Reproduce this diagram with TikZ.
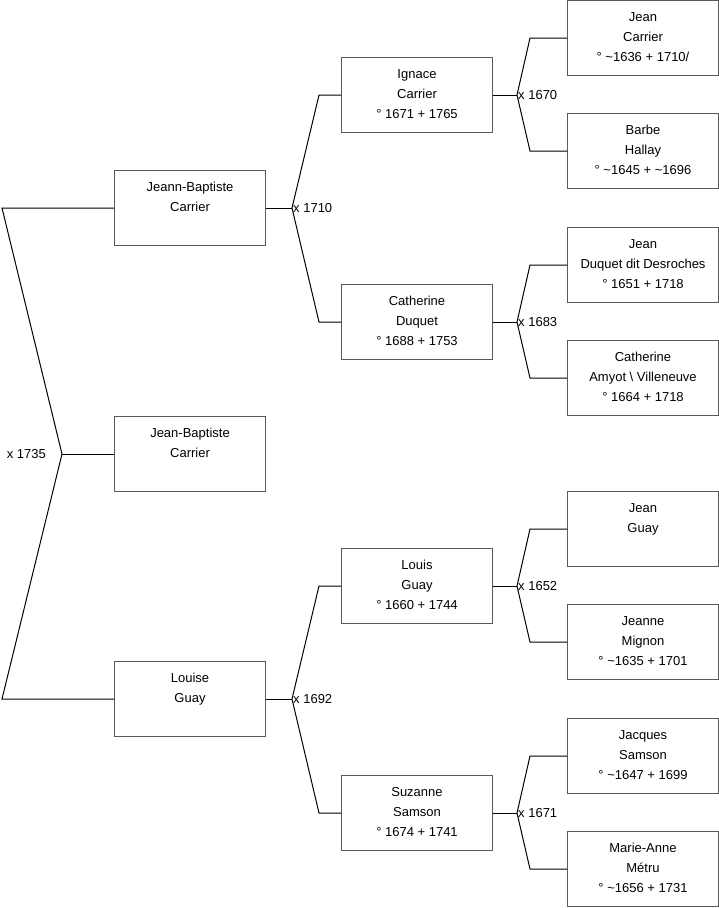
\documentclass[tikz,border=0pt]{standalone}
\usepackage{fontspec}
\setmainfont{Liberation Sans}
\usetikzlibrary{calc}
\newcommand{\pbx}[1]{\parbox[t][75pt][t]{151pt}{\centering\fontsize{13}{20}\selectfont\rule{0pt}{21pt}#1}}
\begin{document}
\begin{tikzpicture}[x=1pt,y=-1pt,
  person/.style={draw=black!65, line width=1pt, inner sep=0pt, anchor=west, text=black},
  link/.style={draw=black, line width=1pt},
  marr/.style={font=\fontsize{13}{15}\selectfont, inner sep=1pt, text=black}]
\useasboundingbox (0,0) rectangle (719,908);
% generation 1
\node[person] (p1) at (114,208) {\pbx{Jeann-Baptiste\\Carrier}};
\node[person] (p0) at (114,454) {\pbx{Jean-Baptiste\\Carrier}};
\node[person] (p2) at (114,699) {\pbx{Louise\\Guay}};
% generation 2
\node[person] (p11) at (341,95) {\pbx{Ignace\\Carrier\\° 1671 + 1765}};
\node[person] (p12) at (341,322) {\pbx{Catherine\\Duquet\\° 1688 + 1753}};
\node[person] (p21) at (341,586) {\pbx{Louis\\Guay\\° 1660 + 1744}};
\node[person] (p22) at (341,813) {\pbx{Suzanne\\Samson\\° 1674 + 1741}};
% generation 3
\node[person] (p111) at (567,38) {\pbx{Jean\\Carrier\\° \textasciitilde1636 + 1710/}};
\node[person] (p112) at (567,151) {\pbx{Barbe\\Hallay\\° \textasciitilde1645 + \textasciitilde1696}};
\node[person] (p121) at (567,265) {\pbx{Jean\\Duquet dit Desroches\\° 1651 + 1718}};
\node[person] (p122) at (567,378) {\pbx{Catherine\\Amyot \textbackslash{} Villeneuve\\° 1664 + 1718}};
\node[person] (p211) at (567,529) {\pbx{Jean\\Guay}};
\node[person] (p212) at (567,642) {\pbx{Jeanne\\Mignon\\° \textasciitilde1635 + 1701}};
\node[person] (p221) at (567,756) {\pbx{Jacques\\Samson\\° \textasciitilde1647 + 1699}};
\node[person] (p222) at (567,869) {\pbx{Marie-Anne\\Métru\\° \textasciitilde1656 + 1731}};
% root couple
\coordinate (f0) at ($(p0.west)+(-52,0)$);
\coordinate (c1) at ($(p1.west)+(-112,0)$);
\coordinate (c2) at ($(p2.west)+(-112,0)$);
\draw[link] (p1.west) -- (c1) -- (f0) -- (c2) -- (p2.west);
\draw[link] (f0) -- (p0.west);
\node[marr, anchor=east] (m0) at ($(f0)+(-15,0)$) {x 1735};
% gen1 forks
\coordinate (f1) at ($(p1.east)+(26,0)$);
\draw[link] (p1.east) -- (f1);
\draw[link] (p11.west) -- ++(-22,0) -- (f1) -- ($(p12.west)+(-22,0)$) -- (p12.west);
\node[marr, anchor=west] (m1) at (f1) {x 1710};
\coordinate (f2) at ($(p2.east)+(26,0)$);
\draw[link] (p2.east) -- (f2);
\draw[link] (p21.west) -- ++(-22,0) -- (f2) -- ($(p22.west)+(-22,0)$) -- (p22.west);
\node[marr, anchor=west] (m2) at (f2) {x 1692};
% gen2 forks
\coordinate (f11) at ($(p11.east)+(24,0)$);
\draw[link] (p11.east) -- (f11);
\draw[link] (p111.west) -- ++(-37,0) -- (f11) -- ($(p112.west)+(-37,0)$) -- (p112.west);
\node[marr, anchor=west] (m11) at (f11) {x 1670};
\coordinate (f12) at ($(p12.east)+(24,0)$);
\draw[link] (p12.east) -- (f12);
\draw[link] (p121.west) -- ++(-37,0) -- (f12) -- ($(p122.west)+(-37,0)$) -- (p122.west);
\node[marr, anchor=west] (m12) at (f12) {x 1683};
\coordinate (f21) at ($(p21.east)+(24,0)$);
\draw[link] (p21.east) -- (f21);
\draw[link] (p211.west) -- ++(-37,0) -- (f21) -- ($(p212.west)+(-37,0)$) -- (p212.west);
\node[marr, anchor=west] (m21) at (f21) {x 1652};
\coordinate (f22) at ($(p22.east)+(24,0)$);
\draw[link] (p22.east) -- (f22);
\draw[link] (p221.west) -- ++(-37,0) -- (f22) -- ($(p222.west)+(-37,0)$) -- (p222.west);
\node[marr, anchor=west] (m22) at (f22) {x 1671};
\end{tikzpicture}
\end{document}
